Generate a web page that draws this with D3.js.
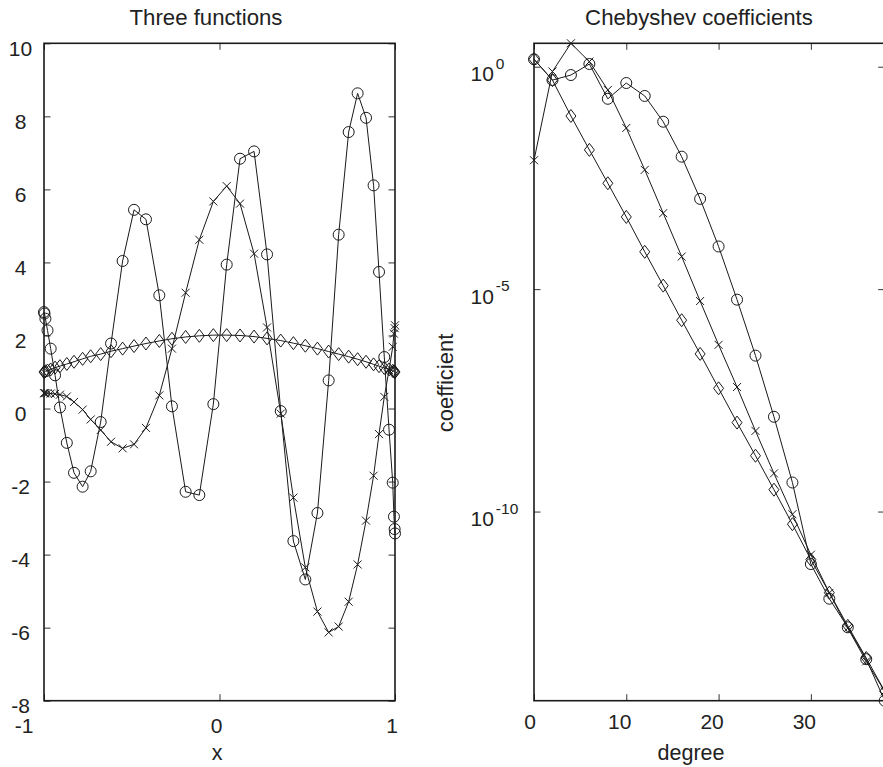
<!DOCTYPE html>
<html>
<head>
<meta charset="utf-8">
<script src="https://cdn.jsdelivr.net/npm/d3@7"></script>
<style>
  body { margin: 0; background: #fff; }
  svg text { font-family: 'Liberation Sans', Arial, Helvetica, sans-serif; fill: #222; }
</style>
</head>
<body>
<svg id="chart" width="883" height="767"></svg>
<script>
const gridX = [
  -1.000, -0.997, -0.992, -0.980, -0.962, -0.937, -0.909, -0.870, -0.829, -0.780, -0.734,
  -0.677, -0.618, -0.552, -0.487, -0.419, -0.343, -0.271, -0.193, -0.115, -0.035,
  0.041, 0.117, 0.197, 0.271, 0.349, 0.421, 0.489, 0.558, 0.622, 0.679, 0.736,
  0.787, 0.835, 0.878, 0.909, 0.939, 0.966, 0.987, 0.994, 0.998, 1.000
];
const circlesY = [
  2.64, 2.60, 2.46, 2.14, 1.64, 0.91, 0.03, -0.94, -1.76, -2.14, -1.72,
  -0.37, 1.78, 4.04, 5.44, 5.18, 3.10, 0.06, -2.28, -2.37, 0.12,
  3.94, 6.84, 7.04, 4.22, -0.07, -3.63, -4.68, -2.86, 0.77, 4.76, 7.57,
  8.63, 7.96, 6.11, 3.74, 1.41, -0.58, -2.03, -2.96, -3.30, -3.42
];
const crossesY = [
  0.42, 0.42, 0.42, 0.42, 0.41, 0.40, 0.38, 0.33, 0.18, -0.03, -0.30,
  -0.59, -0.91, -1.09, -0.98, -0.53, 0.36, 1.64, 3.17, 4.62, 5.67,
  6.09, 5.61, 4.24, 2.22, -0.14, -2.44, -4.35, -5.56, -6.13, -5.97, -5.29,
  -4.27, -3.07, -1.84, -0.70, 0.32, 1.05, 1.69, 2.05, 2.20, 2.28
];
const diamondsY = [
  1.00, 1.00, 1.02, 1.04, 1.07, 1.12, 1.16, 1.22, 1.28, 1.36, 1.43,
  1.49, 1.57, 1.64, 1.71, 1.78, 1.85, 1.91, 1.96, 1.99, 2.01,
  2.01, 2.00, 1.97, 1.92, 1.86, 1.79, 1.72, 1.64, 1.56, 1.49, 1.42,
  1.35, 1.28, 1.21, 1.16, 1.11, 1.07, 1.03, 1.02, 1.00, 1.00
];
const leftXTicks = [-1, 0, 1];
const leftYTicks = [-8, -6, -4, -2, 0, 2, 4, 6, 8, 10];

// Right panel: |Chebyshev coefficient| at even degrees
const degrees = [0, 2, 4, 6, 8, 10, 12, 14, 16, 18, 20, 22, 24, 26, 28, 30, 32, 34, 36, 38];
const coefCircles = [
  1.47, 0.50, 0.65, 1.15, 0.19, 0.43, 0.22, 0.058, 9.5e-3, 1.07e-3,
  9.1e-5, 5.8e-6, 3.2e-7, 1.35e-8, 4.5e-10, 6.6e-12, 1.1e-12, 2.5e-13, 4.8e-14, 5.6e-15
];
const coefCrosses = [
  7.9e-3, 0.78, 3.36, 1.3, 0.30, 0.042, 4.8e-3, 5.1e-4, 5.4e-5, 5.4e-6,
  5.6e-7, 6.3e-8, 6.5e-9, 7.2e-10, 8.7e-11, 1.07e-11, 1.48e-12, 2.4e-13, 4.3e-14, 9.1e-15
];
const coefDiamonds = [
  1.47, 0.50, 0.078, 0.0135, 2.4e-3, 4.2e-4, 6.9e-5, 1.2e-5, 2.0e-6, 3.5e-7,
  5.9e-8, 1.0e-8, 1.8e-9, 3.1e-10, 5.2e-11, 8.3e-12, 1.5e-12, 2.7e-13, 5.1e-14, 9.1e-15
];
const rightXTicks = [0, 10, 20, 30];
const rightYExponents = [0, -5, -10];

const ink = '#1a1a1a';
const tickLen = 6.5;
const svg = d3.select('#chart');

const markers = {
  circle: 'M5.5,0A5.5,5.5 0 1,1 -5.5,0A5.5,5.5 0 1,1 5.5,0Z',
  cross: 'M-4,-4L4,4M-4,4L4,-4',
  diamond: 'M0,-6.5L5,0L0,6.5L-5,0Z'
};

function drawFrame(g, box) {
  g.append('rect')
    .attr('x', box.x0)
    .attr('y', box.y0)
    .attr('width', box.x1 - box.x0)
    .attr('height', box.y1 - box.y0)
    .attr('fill', 'none')
    .attr('stroke', ink)
    .attr('stroke-width', 1.6);
}

// inward ticks on all four sides, labels handled separately
function drawTicks(g, box, x, y, xVals, yVals) {
  const t = g.append('g').attr('class', 'ticks');
  [box.y1, box.y0].forEach((yy, k) => {
    t.append('g')
      .attr('transform', `translate(0, ${yy})`)
      .call(d3.axisBottom(x).tickValues(xVals).tickSize(k ? tickLen : -tickLen).tickFormat(''));
  });
  [box.x0, box.x1].forEach((xx, k) => {
    t.append('g')
      .attr('transform', `translate(${xx}, 0)`)
      .call(d3.axisLeft(y).tickValues(yVals).tickSize(k ? tickLen : -tickLen).tickFormat(''));
  });
  t.selectAll('.domain').remove();
  t.selectAll('.tick line').attr('stroke', '#333').attr('stroke-width', 1);
}

function drawSeries(g, xs, ys, x, y, shape) {
  const pts = xs.map((v, i) => [v, ys[i]]);
  const s = g.append('g').attr('class', `series ${shape}`);
  s.append('path')
    .datum(pts)
    .attr('fill', 'none')
    .attr('stroke', ink)
    .attr('stroke-width', 1)
    .attr('d', d3.line().x(d => x(d[0])).y(d => y(d[1])));
  s.selectAll('path.marker')
    .data(pts)
    .enter()
    .append('path')
    .attr('class', 'marker')
    .attr('transform', d => `translate(${x(d[0])}, ${y(d[1])})`)
    .attr('d', markers[shape])
    .attr('fill', 'none')
    .attr('stroke', ink)
    .attr('stroke-width', 1);
}

// ---- left panel ----
const boxL = { x0: 44, x1: 395, y0: 43.3, y1: 700.7 };
const xL = d3.scaleLinear().domain([-1, 1]).range([boxL.x0, boxL.x1]);
const yL = d3.scaleLinear().domain([-8, 10]).range([boxL.y1, boxL.y0]);
const gL = svg.append('g').attr('class', 'panel-left');

drawTicks(gL, boxL, xL, yL, leftXTicks, leftYTicks);
drawSeries(gL, gridX, circlesY, xL, yL, 'circle');
drawSeries(gL, gridX, crossesY, xL, yL, 'cross');
drawSeries(gL, gridX, diamondsY, xL, yL, 'diamond');
drawFrame(gL, boxL);

gL.selectAll('text.ytick')
  .data(leftYTicks)
  .enter()
  .append('text')
  .attr('class', 'ytick')
  .attr('x', boxL.x0 - 23.5)
  .attr('y', d => yL(d) + 12.5)
  .attr('text-anchor', 'middle')
  .attr('font-size', 21)
  .text(d => d);

gL.selectAll('text.xtick')
  .data(leftXTicks)
  .enter()
  .append('text')
  .attr('class', 'xtick')
  .attr('x', d => xL(d) + (d === -1 ? -20 : -3))
  .attr('y', 733)
  .attr('text-anchor', 'middle')
  .attr('font-size', 21)
  .text(d => d);

gL.append('text')
  .attr('x', (boxL.x0 + boxL.x1) / 2 - 13.5)
  .attr('y', 25)
  .attr('text-anchor', 'middle')
  .attr('font-size', 22.2)
  .text('Three functions');

gL.append('text')
  .attr('x', (boxL.x0 + boxL.x1) / 2 - 2.5)
  .attr('y', 760)
  .attr('text-anchor', 'middle')
  .attr('font-size', 21.5)
  .text('x');

// ---- right panel ----
const boxR = { x0: 534, x1: 884.7, y0: 43.3, y1: 700.7 };
const xR = d3.scaleLinear().domain([0, 38]).range([boxR.x0, boxR.x1]);
const yR = d3.scaleLog().domain([5.6e-15, 3.36]).range([boxR.y1, boxR.y0]);
const gR = svg.append('g').attr('class', 'panel-right');

drawTicks(gR, boxR, xR, yR, rightXTicks, rightYExponents.map(e => Math.pow(10, e)));
drawSeries(gR, degrees, coefCircles, xR, yR, 'circle');
drawSeries(gR, degrees, coefCrosses, xR, yR, 'cross');
drawSeries(gR, degrees, coefDiamonds, xR, yR, 'diamond');
drawFrame(gR, boxR);

const yLab = gR.selectAll('text.ytick')
  .data(rightYExponents)
  .enter()
  .append('text')
  .attr('class', 'ytick')
  .attr('x', 470.5)
  .attr('y', d => yR(Math.pow(10, d)) + 14.7)
  .attr('font-size', 21);
yLab.append('tspan').text('10');
yLab.append('tspan')
  .attr('dx', 2)
  .attr('dy', -12.5)
  .attr('font-size', 15.5)
  .text(d => d);

gR.selectAll('text.xtick')
  .data(rightXTicks)
  .enter()
  .append('text')
  .attr('class', 'xtick')
  .attr('x', d => xR(d) + (d === 0 ? -4 : -6.5))
  .attr('y', 729)
  .attr('text-anchor', 'middle')
  .attr('font-size', 21)
  .text(d => d);

gR.append('text')
  .attr('x', 699)
  .attr('y', 25)
  .attr('text-anchor', 'middle')
  .attr('font-size', 22.2)
  .text('Chebyshev coefficients');

gR.append('text')
  .attr('x', 691)
  .attr('y', 760)
  .attr('text-anchor', 'middle')
  .attr('font-size', 21.5)
  .text('degree');

gR.append('text')
  .attr('transform', 'translate(453, 383) rotate(-90)')
  .attr('text-anchor', 'middle')
  .attr('font-size', 22)
  .text('coefficient');
</script>
</body>
</html>
